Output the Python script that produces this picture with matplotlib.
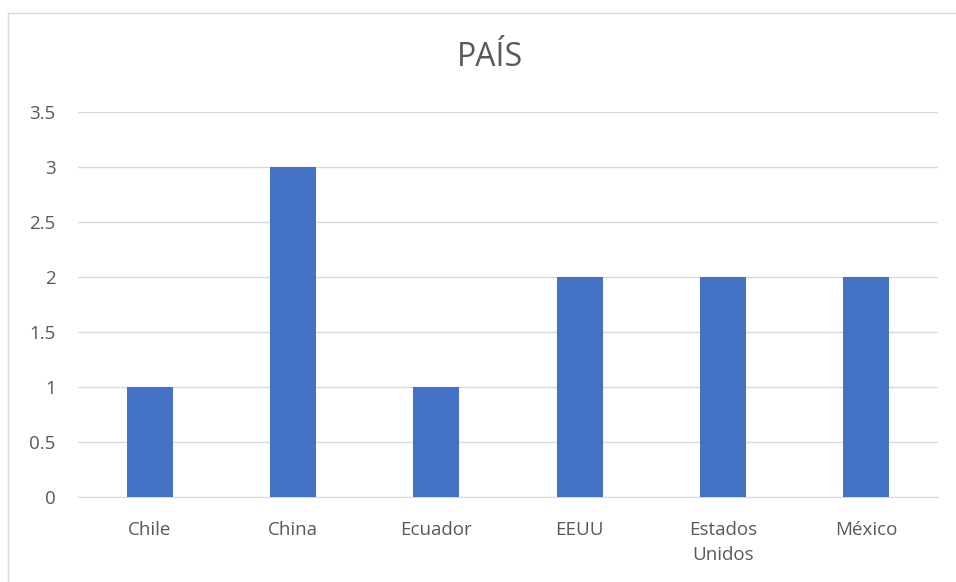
import matplotlib.pyplot as plt
from matplotlib.lines import Line2D

paises = ['Chile', 'China', 'Ecuador', 'EEUU', 'Estados\nUnidos', 'México']
valores = [1, 3, 1, 2, 2, 2]
ticks_y = [0, 0.5, 1, 1.5, 2, 2.5, 3, 3.5]
etiquetas_y = ['0', '0.5', '1', '1.5', '2', '2.5', '3', '3.5']

plt.rcParams['font.family'] = ['Open Sans', 'DejaVu Sans']
gris = '#595959'

fig = plt.figure(figsize=(9.56, 5.82), dpi=100)
ax = fig.add_axes([78 / 956, 85 / 582, 860 / 956, 385 / 582])

x = range(len(paises))
ax.bar(x, valores, width=0.32, color='#4472C4', zorder=3)

ax.set_xlim(-0.5, len(paises) - 0.5)
ax.set_ylim(0, 3.5)
ax.set_yticks(ticks_y)
ax.set_yticklabels(etiquetas_y)
ax.set_xticks(list(x))
ax.set_xticklabels(paises, linespacing=1.55, va='top')
ax.tick_params(axis='both', length=0, labelsize=13.5, colors=gris)
ax.tick_params(axis='x', pad=17)
ax.tick_params(axis='y', pad=16)
ax.grid(axis='y', color='#D9D9D9', linewidth=1, zorder=0)
for s in ['top', 'right', 'left']:
    ax.spines[s].set_visible(False)
ax.spines['bottom'].set_color('#D9D9D9')

fig.text(490 / 956, 1 - 58 / 582, 'PAÍS', ha='center', va='center', fontsize=23, color=gris)

# borde del gráfico
fig.add_artist(Line2D([8 / 956, 8 / 956], [0, 1 - 13 / 582], transform=fig.transFigure, color='#D9D9D9', lw=1))
fig.add_artist(Line2D([8 / 956, 1], [1 - 13 / 582, 1 - 13 / 582], transform=fig.transFigure, color='#D9D9D9', lw=1))

fig.savefig('out.png', dpi=100)
